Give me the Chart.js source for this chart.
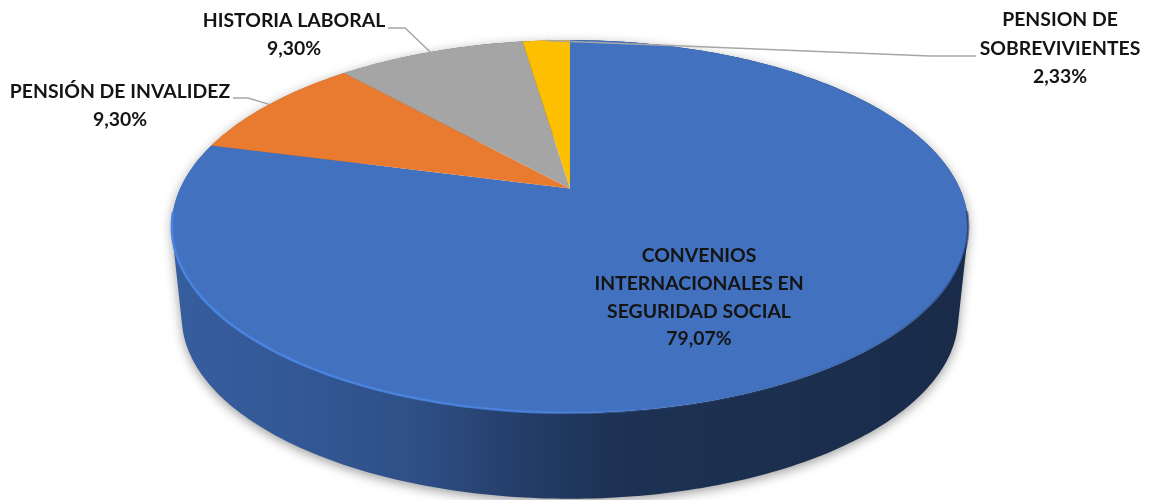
<!DOCTYPE html>
<html lang="es">
<head>
<meta charset="utf-8">
<title>Distribución de trámites</title>
<script src="https://cdn.jsdelivr.net/npm/chart.js@4"></script>
<style>
    html, body { margin: 0; padding: 0; background: #fff; }
    canvas { display: block; }
</style>
</head>
<body>
<canvas id="pieChart" width="1150" height="500"></canvas>
<script>
// Datos del gráfico
var categorias = [
    ['CONVENIOS', 'INTERNACIONALES EN', 'SEGURIDAD SOCIAL'],
    ['PENSIÓN DE INVALIDEZ'],
    ['HISTORIA LABORAL'],
    ['PENSION DE', 'SOBREVIVIENTES']
];
var valores = [79.07, 9.30, 9.30, 2.33];
var colores = ['#4271c0', '#e97b30', '#a5a5a5', '#fdbf00'];

// Posición de cada rótulo: centro del texto, primera línea y codo de la guía
var rotulos = [
    { x: 699, y: 256, paso: 27.7 },
    { x: 120, y: 92, paso: 28, desde: [233, 98], codo: [248, 98] },
    { x: 294, y: 21, paso: 28, desde: [388, 28], codo: [405, 28] },
    { x: 1060, y: 20, paso: 28.5, desde: [976, 56], codo: [930, 56] }
];

// Proyección del disco en perspectiva (el centro queda más arriba que el de la elipse)
var disco = { cx: 570, cy: 188.5, rx: 389.8, ry: 178.6, k: -0.204 };
var base = { cy: 280, escala: 0.975 };

function proyectar(angulo, cy, escala) {
    var u = Math.cos(angulo), v = Math.sin(angulo);
    var d = 1 + disco.k * v;
    return [disco.cx + escala * disco.rx * u / d, cy + escala * disco.ry * v / d];
}

function sombrear(hex, f) {
    var n = parseInt(hex.slice(1), 16);
    return 'rgb(' + Math.round((n >> 16) * f) + ',' + Math.round(((n >> 8) & 255) * f) + ',' + Math.round((n & 255) * f) + ')';
}

function muestras(arco) {
    var lista = [];
    var pasos = Math.max(8, Math.ceil((arco.endAngle - arco.startAngle) * 60));
    for (var i = 0; i <= pasos; i++) {
        lista.push(arco.startAngle + (arco.endAngle - arco.startAngle) * i / pasos);
    }
    return lista;
}

// Pared lateral: tiras orientadas igual para que el relleno sea una sola unión
function dibujarPared(ctx, arco, color) {
    var angs = muestras(arco);
    ctx.beginPath();
    for (var i = 0; i < angs.length - 1; i++) {
        var q = [
            proyectar(angs[i], disco.cy, 1),
            proyectar(angs[i + 1], disco.cy, 1),
            proyectar(angs[i + 1], base.cy, base.escala),
            proyectar(angs[i], base.cy, base.escala)
        ];
        var area = 0;
        for (var j = 0; j < 4; j++) {
            var a = q[j], b = q[(j + 1) % 4];
            area += a[0] * b[1] - b[0] * a[1];
        }
        if (area < 0) q.reverse();
        ctx.moveTo(q[0][0], q[0][1]);
        ctx.lineTo(q[1][0], q[1][1]);
        ctx.lineTo(q[2][0], q[2][1]);
        ctx.lineTo(q[3][0], q[3][1]);
        ctx.closePath();
    }
    var grad = ctx.createLinearGradient(172, 0, 968, 0);
    grad.addColorStop(0, sombrear(color, 0.82));
    grad.addColorStop(0.15, sombrear(color, 0.78));
    grad.addColorStop(0.3, sombrear(color, 0.71));
    grad.addColorStop(0.42, sombrear(color, 0.57));
    grad.addColorStop(0.55, sombrear(color, 0.44));
    grad.addColorStop(1, sombrear(color, 0.38));
    ctx.save();
    ctx.shadowColor = 'rgba(0,0,0,0.38)';
    ctx.shadowBlur = 11;
    ctx.shadowOffsetY = 3;
    ctx.fillStyle = grad;
    ctx.fill();
    ctx.restore();
}

function dibujarCara(ctx, arco, color) {
    ctx.beginPath();
    ctx.moveTo(disco.cx, disco.cy);
    muestras(arco).forEach(function(ang) {
        var p = proyectar(ang, disco.cy, 1);
        ctx.lineTo(p[0], p[1]);
    });
    ctx.closePath();
    ctx.fillStyle = color;
    ctx.fill();
}

// Brillo del borde delantero, claro a la izquierda y oscuro a la derecha
function dibujarBrillo(ctx, arco) {
    var grad = ctx.createLinearGradient(172, 0, 968, 0);
    grad.addColorStop(0, 'rgba(74,132,226,1)');
    grad.addColorStop(0.45, 'rgba(74,132,226,0.8)');
    grad.addColorStop(0.6, 'rgba(74,132,226,0.15)');
    grad.addColorStop(0.9, 'rgba(25,45,85,0.2)');
    grad.addColorStop(1, 'rgba(20,35,70,0.5)');
    ctx.beginPath();
    var primero = true;
    muestras(arco).forEach(function(ang) {
        if (Math.sin(ang) < 0.12) return;
        var p = proyectar(ang, disco.cy, 1);
        if (primero) ctx.moveTo(p[0], p[1]); else ctx.lineTo(p[0], p[1]);
        primero = false;
    });
    ctx.strokeStyle = grad;
    ctx.lineWidth = 2.5;
    ctx.stroke();
}

function dibujarRotulo(ctx, arco, i) {
    var r = rotulos[i];
    if (r.desde) {
        var fin = proyectar((arco.startAngle + arco.endAngle) / 2, disco.cy, 1);
        ctx.beginPath();
        ctx.moveTo(r.desde[0], r.desde[1]);
        ctx.lineTo(r.codo[0], r.codo[1]);
        ctx.lineTo(fin[0], fin[1]);
        ctx.strokeStyle = '#a6a6a6';
        ctx.lineWidth = 1.5;
        ctx.stroke();
    }
    var lineas = categorias[i].concat(valores[i].toFixed(2).replace('.', ',') + '%');
    ctx.font = 'bold 19.4px Lato';
    ctx.fillStyle = '#141414';
    ctx.textAlign = 'center';
    ctx.textBaseline = 'middle';
    lineas.forEach(function(txt, n) {
        ctx.fillText(txt, r.x, r.y + n * r.paso);
    });
}

var tarta3d = {
    id: 'tarta3d',
    beforeDatasetDraw: function(chart, args) {
        var ctx = chart.ctx;
        var arcos = args.meta.data;
        arcos.forEach(function(arco, i) { dibujarPared(ctx, arco, colores[i]); });
        arcos.forEach(function(arco, i) { dibujarCara(ctx, arco, colores[i]); });
        dibujarBrillo(ctx, arcos[0]);
        arcos.forEach(function(arco, i) { dibujarRotulo(ctx, arco, i); });
        return false;
    }
};

var ctx = document.getElementById('pieChart').getContext('2d');
var myChart = new Chart(ctx, {
    type: 'pie',
    data: {
        labels: categorias,
        datasets: [{
            data: valores,
            backgroundColor: colores,
            borderWidth: 0
        }]
    },
    options: {
        responsive: false,
        animation: false,
        plugins: {
            legend: { display: false },
            tooltip: { enabled: false }
        }
    },
    plugins: [tarta3d]
});
</script>
</body>
</html>
